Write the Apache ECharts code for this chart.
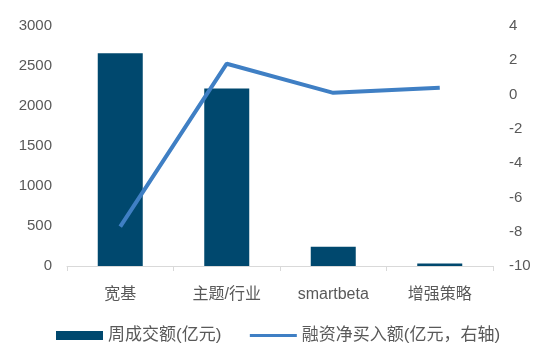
<!DOCTYPE html>
<html>
<head>
<meta charset="utf-8">
<script src="https://cdn.jsdelivr.net/npm/echarts@6/dist/echarts.min.js"></script>
<style>
  html, body { margin: 0; padding: 0; background: #fff; }
  #chart { width: 543px; height: 354px; }
</style>
</head>
<body>
<div id="chart"></div>
<script>
const categories = ['宽基', '主题/行业', 'smartbeta', '增强策略']
const turnover = [2660, 2220, 240, 30]
const netBuy = [-7.7, 1.8, 0.1, 0.4]

const font = 'Arial, "Liberation Sans", "Noto Sans CJK SC", sans-serif'
const textColor = '#595959'

const chart = echarts.init(document.getElementById('chart'))
chart.setOption({
  animation: false,
  textStyle: { fontFamily: font },
  grid: { left: 67, right: 50, top: 26, bottom: 88 },
  legend: {
    top: 327,
    left: 56,
    padding: 0,
    itemGap: 27,
    itemWidth: 47,
    itemHeight: 9,
    textStyle: { fontSize: 17, color: textColor, fontFamily: font },
    data: [
      { name: '周成交额(亿元)', icon: 'rect' },
      {
        name: '融资净买入额(亿元，右轴)',
        itemStyle: { opacity: 0 },
        lineStyle: { width: 3 },
      },
    ],
  },
  xAxis: {
    type: 'category',
    data: categories,
    axisLine: { lineStyle: { color: '#d9d9d9', width: 1 } },
    axisTick: { show: true, length: 5, lineStyle: { color: '#d9d9d9' } },
    axisLabel: { fontSize: 16, color: textColor, margin: 21 },
  },
  yAxis: [
    {
      type: 'value',
      min: 0,
      max: 3000,
      interval: 500,
      splitLine: { show: false },
      axisLine: { show: false },
      axisTick: { show: false },
      axisLabel: { fontSize: 15, color: textColor, margin: 15, formatter: (v) => String(v) },
    },
    {
      type: 'value',
      min: -10,
      max: 4,
      interval: 2,
      splitLine: { show: false },
      axisLine: { show: false },
      axisTick: { show: false },
      axisLabel: { fontSize: 15, color: textColor, margin: 16 },
    },
  ],
  series: [
    {
      name: '周成交额(亿元)',
      type: 'bar',
      data: turnover,
      barWidth: 45,
      itemStyle: { color: '#00486e' },
    },
    {
      name: '融资净买入额(亿元，右轴)',
      type: 'line',
      yAxisIndex: 1,
      data: netBuy,
      symbol: 'none',
      lineStyle: { color: '#3f7fc4', width: 4 },
      itemStyle: { color: '#3f7fc4' },
    },
  ],
})
</script>
</body>
</html>
